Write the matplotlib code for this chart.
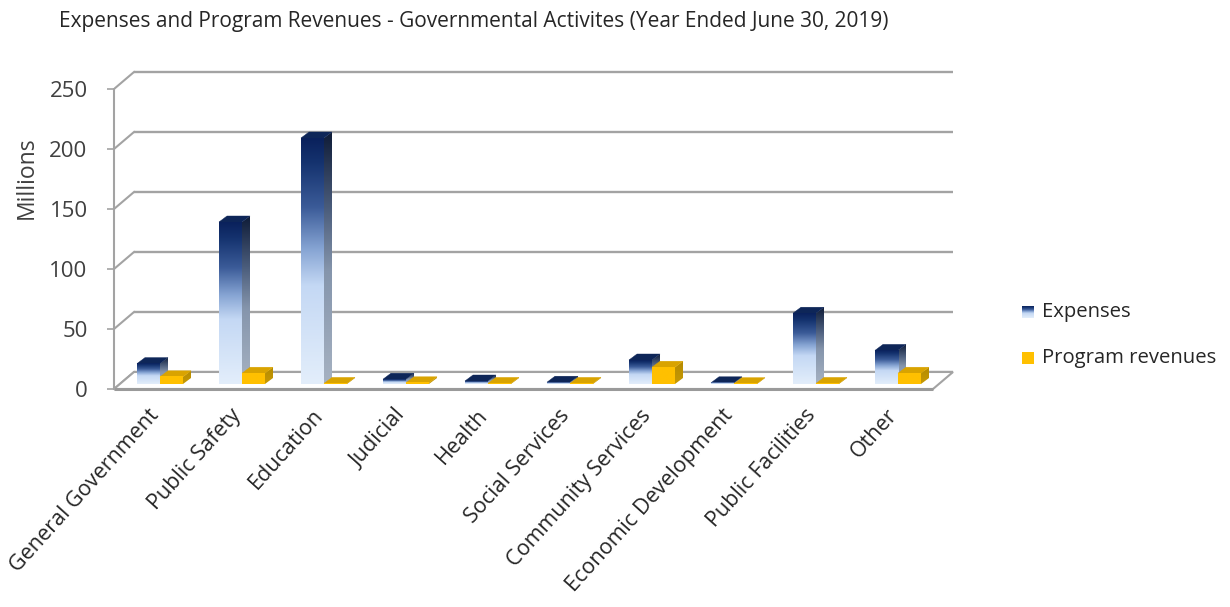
import numpy as np
import matplotlib
matplotlib.use("Agg")
import matplotlib.pyplot as plt
import matplotlib.transforms as mtransforms
from matplotlib.colors import LinearSegmentedColormap
from matplotlib.patches import Polygon, Rectangle

plt.rcParams['font.family'] = ['Open Sans', 'DejaVu Sans']

# data (millions of dollars)
categories = ["General Government", "Public Safety", "Education", "Judicial", "Health",
              "Social Services", "Community Services", "Economic Development",
              "Public Facilities", "Other"]
expenses = [17, 135, 205, 4, 2.5, 1.5, 20, 1, 59, 28]
program_revenues = [6, 9, 0.5, 1, 0.5, 0.5, 14, 0.3, 0.5, 9]
y_ticks = [0, 50, 100, 150, 200, 250]

TITLE = "Expenses and Program Revenues - Governmental Activites (Year Ended June 30, 2019)"

# pixel layout of the plot box
W, H = 1230, 607
PX_CAT0, PX_STEP = 162, 82      # x pixel of first category, pixels per category
PX_ZERO, PX_PER_M = 389, 1.2    # y pixel of zero, pixels per million
AX_L, AX_R, AX_T, AX_B = 114, 965, 55, 400

def dx(px):
    return px / PX_STEP

def dy(px):
    return px / PX_PER_M

WALL_DX, WALL_DY = dx(20), dy(17)
BAR_OFF_Y = dy(5)
BAR_DX, BAR_DY = dx(8), dy(6)
BAR_W = dx(23)
EXP_X, REV_X = -dx(25), -dx(2)
FLOOR_RIGHT = (933 - PX_CAT0) / PX_STEP
GRID = "#a3a3a3"

exp_front = LinearSegmentedColormap.from_list(
    "exp_front", [(0, "#0a215c"), (0.1, "#15336f"), (0.28, "#3b5b98"), (0.45, "#86a4d3"),
                  (0.6, "#c4d8f4"), (1, "#e3eefb")])
exp_side = LinearSegmentedColormap.from_list(
    "exp_side", [(0, "#0f1c38"), (0.3, "#4a5c7b"), (0.55, "#8595ac"), (1, "#a6b2c2")])
rev_front = LinearSegmentedColormap.from_list("rev_front", ["#ffc000", "#ffc000"])
rev_side = LinearSegmentedColormap.from_list("rev_side", ["#b58a00", "#c79a05"])


def draw_bar(ax, x0, value, front_cmap, side_cmap, top_color, z):
    x1 = x0 + BAR_W
    y0 = BAR_OFF_Y
    y1 = y0 + value
    grad = np.linspace(0, 1, 256).reshape(-1, 1)
    # right side face
    side = Polygon([(x1, y0), (x1 + BAR_DX, y0 + BAR_DY), (x1 + BAR_DX, y1 + BAR_DY), (x1, y1)],
                   closed=True, facecolor="none", edgecolor="none", zorder=z)
    ax.add_patch(side)
    im = ax.imshow(grad, extent=[x1, x1 + BAR_DX, y0, y1 + BAR_DY], aspect="auto",
                   cmap=side_cmap, origin="upper", zorder=z, interpolation="bilinear")
    im.set_clip_path(side)
    # top face
    ax.add_patch(Polygon([(x0, y1), (x1, y1), (x1 + BAR_DX, y1 + BAR_DY), (x0 + BAR_DX, y1 + BAR_DY)],
                         closed=True, facecolor=top_color, edgecolor=top_color, lw=0.3, zorder=z))
    # front face
    if value > 0.2:
        ax.imshow(grad, extent=[x0, x1, y0, y1], aspect="auto", cmap=front_cmap,
                  origin="upper", zorder=z + 0.001, interpolation="bilinear")


fig = plt.figure(figsize=(W / 100, H / 100), dpi=100)
ax = fig.add_axes([AX_L / W, (H - AX_B) / H, (AX_R - AX_L) / W, (AX_B - AX_T) / H])

x_left = (AX_L - PX_CAT0) / PX_STEP

# back wall gridlines and left wall edges
for v in y_ticks:
    ax.plot([x_left + WALL_DX, FLOOR_RIGHT + WALL_DX], [v + WALL_DY, v + WALL_DY],
            color=GRID, lw=1.7, zorder=1, solid_capstyle="butt")
    ax.plot([x_left, x_left + WALL_DX], [v, v + WALL_DY], color=GRID, lw=1.5, zorder=1)

# floor
ax.add_patch(Polygon([(x_left, 0), (FLOOR_RIGHT, 0), (FLOOR_RIGHT + WALL_DX, WALL_DY),
                      (x_left + WALL_DX, WALL_DY)], closed=True, facecolor="white",
                     edgecolor=GRID, lw=1.5, zorder=2))
ax.plot([x_left, FLOOR_RIGHT], [0, 0], color="#9a9a9a", lw=2.2, zorder=2.5,
        solid_capstyle="butt")

for i, (e, r) in enumerate(zip(expenses, program_revenues)):
    draw_bar(ax, i + EXP_X, e, exp_front, exp_side, "#0e2658", 3 + i * 0.01)
    draw_bar(ax, i + REV_X, r, rev_front, rev_side, "#d9a300", 3.005 + i * 0.01)

ax.set_xlim(x_left, (AX_R - PX_CAT0) / PX_STEP)
ax.set_ylim((PX_ZERO - AX_B) / PX_PER_M, (PX_ZERO - AX_T) / PX_PER_M)

for s in ["top", "right", "bottom"]:
    ax.spines[s].set_visible(False)
ax.spines["left"].set_bounds(0, 250)
ax.spines["left"].set_color(GRID)
ax.spines["left"].set_linewidth(1.5)
ax.set_yticks(y_ticks)
ax.tick_params(axis="y", length=5, width=1.2, color=GRID, labelsize=16,
               labelcolor="#404040", pad=14)
ax.set_xticks(range(len(categories)))
ax.set_xticklabels(categories, rotation=48, ha="right", rotation_mode="anchor",
                   fontsize=15.5, color="#262626")
ax.tick_params(axis="x", length=0, pad=0)
shift = mtransforms.ScaledTranslation(-14 / 100, -5 / 100, fig.dpi_scale_trans)
for lab in ax.get_xticklabels():
    lab.set_transform(lab.get_transform() + shift)

ax.set_ylabel("Millions", fontsize=16.5, color="#404040")
ax.yaxis.set_label_coords((39 - AX_L) / (AX_R - AX_L), (AX_B - 178) / (AX_B - AX_T))

fig.text(59 / W, 1 - 22 / H, TITLE, ha="left", va="center", fontsize=15.05, color="#262626")

# legend
mk = fig.add_axes([1022 / W, 1 - 318 / H, 12 / W, 12 / H])
mk.imshow(np.linspace(0, 1, 64).reshape(-1, 1), cmap=exp_front, aspect="auto",
          extent=[0, 1, 0, 1], origin="upper")
mk.set_axis_off()
fig.patches.append(Rectangle((1022 / W, 1 - 364 / H), 12 / W, 12 / H, transform=fig.transFigure,
                             facecolor="#ffc000", edgecolor="none"))
fig.text(1042 / W, 1 - 312 / H, "Expenses", ha="left", va="center", fontsize=14.6, color="#262626")
fig.text(1042 / W, 1 - 358 / H, "Program revenues", ha="left", va="center", fontsize=14.6,
         color="#262626")

fig.savefig("out.png", dpi=100)
